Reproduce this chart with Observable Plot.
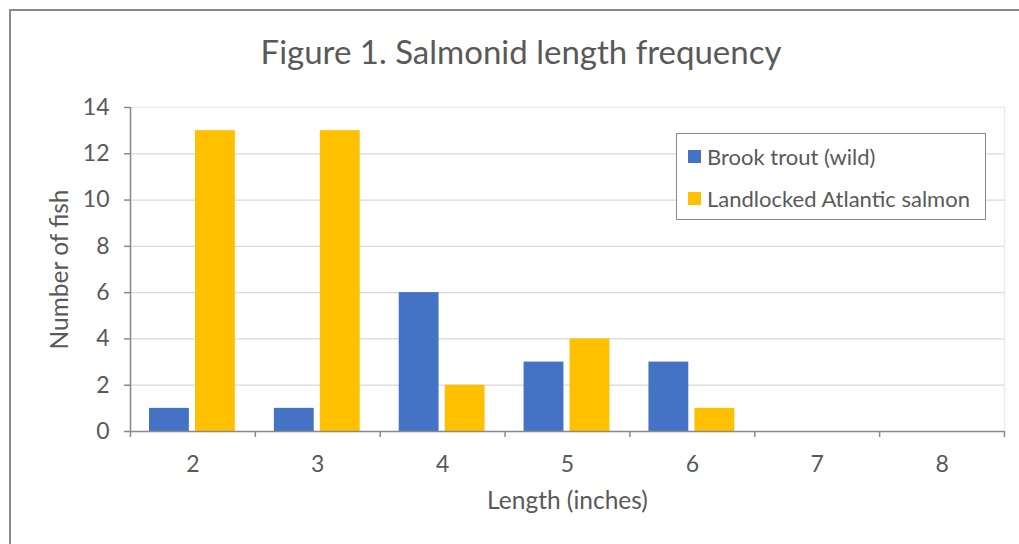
<!DOCTYPE html>
<html>
<head>
<meta charset="utf-8">
<script src="https://cdn.jsdelivr.net/npm/d3@7"></script>
<script src="https://cdn.jsdelivr.net/npm/@observablehq/plot@0.6"></script>
<style>
  html, body { margin: 0; padding: 0; background: #fff; overflow: hidden; }
  #wrap { position: relative; width: 1019px; height: 544px; font-family: Lato, "Open Sans", sans-serif; color: #595959; }
  #border { position: absolute; left: 9px; top: 9px; width: 1100px; height: 600px; border: 2px solid #8a8a8a; box-sizing: border-box; }
  #title { position: absolute; left: 0; top: 0; width: 1042px; height: 90px; text-align: center; font-size: 33px; line-height: 33px; padding-top: 35px; box-sizing: border-box; color: #595959; }
  #chart { position: absolute; left: 0; top: 90px; }
  #legend { position: absolute; left: 676px; top: 133px; width: 310px; height: 87px; box-sizing: border-box; border: 1.5px solid #8a8a8a; background: #fff; font-size: 22px; }
  .item { position: absolute; left: 11px; display: flex; align-items: center; white-space: nowrap; }
  .sw { width: 13px; height: 13px; margin-right: 6px; }
  #chart g.ticklab text { font-size: 23px; }
</style>
</head>
<body>
<div id="wrap">
  <div id="border"></div>
  <div id="title"></div>
  <div id="chart"></div>
  <div id="legend"></div>
</div>
<script>
const lengths = [2, 3, 4, 5, 6, 7, 8];
const brookTrout = [1, 1, 6, 3, 3, 0, 0];
const atlanticSalmon = [13, 13, 2, 4, 1, 0, 0];
const seriesNames = ["Brook trout (wild)", "Landlocked Atlantic salmon"];
const seriesColors = ["#4472C4", "#FFC000"];
const yTicks = [0, 2, 4, 6, 8, 10, 12, 14];
const titleText = "Figure 1. Salmonid length frequency";
const xLabel = "Length (inches)";
const yLabel = "Number of fish";

document.getElementById("title").textContent = titleText;

const data = [];
lengths.forEach((L, i) => {
  data.push({length: L, series: seriesNames[0], value: brookTrout[i]});
  data.push({length: L, series: seriesNames[1], value: atlanticSalmon[i]});
});
const boundaries = lengths.map(L => L - 0.5).concat([lengths[lengths.length - 1] + 0.5]);

const textColor = "#595959";
const font = "Lato, 'Open Sans', sans-serif";

const chart = Plot.plot({
  width: 1019,
  height: 454,
  marginLeft: 130,
  marginRight: 15,
  marginTop: 17,
  marginBottom: 113,
  style: {fontFamily: font, fontSize: "22px", color: textColor, background: "transparent"},
  x: {type: "linear", domain: [boundaries[0], boundaries[boundaries.length - 1]]},
  y: {domain: [0, 14]},
  color: {domain: seriesNames, range: seriesColors},
  marks: [
    Plot.gridY(yTicks.filter(t => t > 0 && t < 14), {stroke: "#d9d9d9", strokeOpacity: 1, strokeWidth: 1.3}),
    Plot.frame({stroke: "#e6ecf5", strokeWidth: 1.5}),
    Plot.rectY(data.filter(d => d.series === seriesNames[0]), {
      x1: d => d.length - 0.5, x2: d => d.length + 0.5, y: "value", fill: "series",
      insetLeft: 19, insetRight: 66
    }),
    Plot.rectY(data.filter(d => d.series === seriesNames[1]), {
      x1: d => d.length - 0.5, x2: d => d.length + 0.5, y: "value", fill: "series",
      insetLeft: 65, insetRight: 20
    }),
    Plot.axisY(yTicks, {tickSize: 6, tickPadding: 15, stroke: "#8a8a8a", strokeWidth: 1.5, fill: textColor,
      label: null, fontSize: 23, tickFormat: d3.format("d")}),
    Plot.axisX(boundaries, {tickSize: 6, tickFormat: () => "", stroke: "#8a8a8a", strokeWidth: 1.5, label: null}),
    Plot.axisX(lengths, {tickSize: 0, tickPadding: 24, fill: textColor, label: null, fontSize: 23, tickFormat: d3.format("d")}),
    Plot.ruleY([0], {stroke: "#8a8a8a", strokeWidth: 1.5}),
    Plot.ruleX([boundaries[0]], {y1: 0, y2: 14, stroke: "#8a8a8a", strokeWidth: 1.5}),
    Plot.text([xLabel], {frameAnchor: "bottom", dy: 77, fill: textColor, fontSize: 24.5}),
    Plot.text([yLabel], {frameAnchor: "left", dx: -70, rotate: -90, textAnchor: "middle", fill: textColor, fontSize: 24.5})
  ]
});
d3.select(chart).selectAll("g").filter(function() {
  const a = this.getAttribute("aria-label") || "";
  return a.indexOf("tick label") >= 0;
}).classed("ticklab", true).attr("font-size", 23);
document.getElementById("chart").appendChild(chart);

const legend = document.getElementById("legend");
seriesNames.forEach((name, i) => {
  const item = document.createElement("div");
  item.className = "item";
  item.style.top = (i === 0 ? 9 : 51) + "px";
  const sw = document.createElement("div");
  sw.className = "sw";
  sw.style.background = seriesColors[i];
  const label = document.createElement("span");
  label.textContent = name;
  item.appendChild(sw);
  item.appendChild(label);
  legend.appendChild(item);
});
</script>
</body>
</html>
